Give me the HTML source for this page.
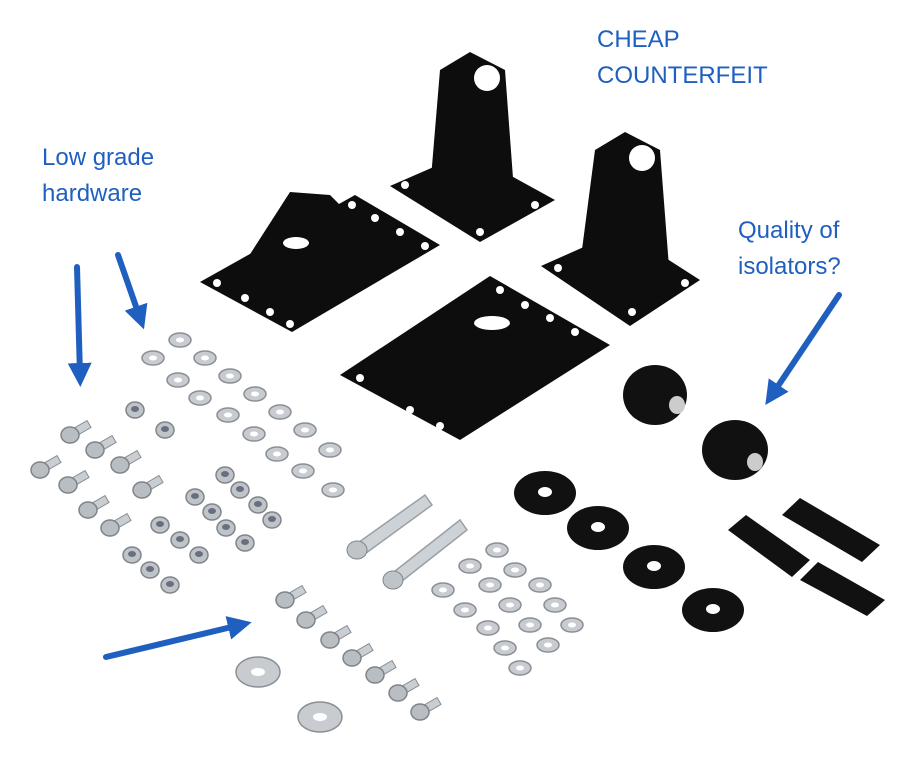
<!DOCTYPE html>
<html><head><meta charset="utf-8"><style>
html,body{margin:0;padding:0;background:#fff;width:915px;height:758px;overflow:hidden}
svg{display:block}
text{font-family:"Liberation Sans","DejaVu Sans",sans-serif;fill:#1f5fbf;font-size:24px}
</style></head><body>
<svg width="915" height="758" viewBox="0 0 915 758" xmlns="http://www.w3.org/2000/svg">
<defs>
<marker id="ah" markerWidth="4" markerHeight="4" refX="2" refY="2" orient="auto" markerUnits="strokeWidth">
<path d="M0,0 L4,2 L0,4 z" fill="#1f5fbf"/></marker>
<g id="wsh"><ellipse cx="0" cy="0" rx="11" ry="7" fill="#c8ccd0" stroke="#8a8f95" stroke-width="1.5"/><ellipse cx="0" cy="0" rx="4" ry="2.5" fill="#fff"/></g>
<g id="nut"><ellipse cx="0" cy="0" rx="9" ry="8" fill="#bfc4c9" stroke="#80858a" stroke-width="1.5"/><ellipse cx="0" cy="-1" rx="4" ry="3" fill="#6a6f80"/></g>
<g id="bolt"><rect x="-6" y="-4" width="28" height="8" fill="#c9ced3" stroke="#8a8f95" transform="rotate(-30)"/><ellipse cx="0" cy="0" rx="9" ry="8" fill="#b9bec3" stroke="#7f848a" stroke-width="1.5"/></g>
<g id="bw"><ellipse cx="0" cy="0" rx="31" ry="22" fill="#111"/><ellipse cx="0" cy="-1" rx="7" ry="5" fill="#fff"/></g>
</defs>
<rect width="915" height="758" fill="#fff"/>
<!-- text -->
<text x="597" y="47">CHEAP</text><text x="597" y="83">COUNTERFEIT</text>
<text x="42" y="165">Low grade</text><text x="42" y="201">hardware</text>
<text x="738" y="238">Quality of</text><text x="738" y="274">isolators?</text>
<!-- brackets -->
<g fill="#0d0d0d">
<polygon points="200,282 355,195 440,245 292,332"/>
<polygon points="245,262 290,192 330,195 380,245 320,290 270,285"/>
<polygon points="340,375 490,276 610,345 460,440"/>
<polygon points="395,350 460,300 510,300 565,345 500,395 440,420"/>
<polygon points="390,186 468,152 555,200 480,242"/>
<polygon points="430,190 440,70 470,52 505,70 515,205 470,220"/>
<polygon points="541,266 622,230 700,280 630,326"/>
<polygon points="580,265 595,150 625,132 660,150 670,280 620,290"/>
</g>
<g fill="#fff">
<circle cx="487" cy="78" r="13"/><circle cx="642" cy="158" r="13"/>
<ellipse cx="296" cy="243" rx="13" ry="6"/><ellipse cx="492" cy="323" rx="18" ry="7"/>
<circle cx="217" cy="283" r="4"/><circle cx="245" cy="298" r="4"/><circle cx="270" cy="312" r="4"/><circle cx="290" cy="324" r="4"/>
<circle cx="352" cy="205" r="4"/><circle cx="375" cy="218" r="4"/><circle cx="400" cy="232" r="4"/><circle cx="425" cy="246" r="4"/>
<circle cx="360" cy="378" r="4"/><circle cx="410" cy="410" r="4"/><circle cx="440" cy="426" r="4"/>
<circle cx="500" cy="290" r="4"/><circle cx="525" cy="305" r="4"/><circle cx="550" cy="318" r="4"/><circle cx="575" cy="332" r="4"/>
<circle cx="405" cy="185" r="4"/><circle cx="480" cy="232" r="4"/><circle cx="535" cy="205" r="4"/>
<circle cx="558" cy="268" r="4"/><circle cx="632" cy="312" r="4"/><circle cx="685" cy="283" r="4"/>
</g>
<!-- isolators -->
<g fill="#111"><ellipse cx="655" cy="395" rx="32" ry="30"/><ellipse cx="735" cy="450" rx="33" ry="30"/></g>
<ellipse cx="677" cy="405" rx="8" ry="9" fill="#ccc"/><ellipse cx="755" cy="462" rx="8" ry="9" fill="#ccc"/>
<use href="#bw" x="545" y="493"/><use href="#bw" x="598" y="528"/><use href="#bw" x="654" y="567"/><use href="#bw" x="713" y="610"/>
<g fill="#111">
<polygon points="782,515 800,498 880,545 862,562"/>
<polygon points="728,530 746,515 810,560 792,577"/>
<polygon points="800,580 818,562 885,600 867,616"/>
</g>
<!-- washers -->
<g>
<use href="#wsh" x="180" y="340"/><use href="#wsh" x="153" y="358"/><use href="#wsh" x="205" y="358"/><use href="#wsh" x="178" y="380"/><use href="#wsh" x="230" y="376"/>
<use href="#wsh" x="200" y="398"/><use href="#wsh" x="255" y="394"/><use href="#wsh" x="228" y="415"/><use href="#wsh" x="280" y="412"/><use href="#wsh" x="254" y="434"/>
<use href="#wsh" x="305" y="430"/><use href="#wsh" x="277" y="454"/><use href="#wsh" x="330" y="450"/><use href="#wsh" x="303" y="471"/><use href="#wsh" x="333" y="490"/>
<use href="#wsh" x="497" y="550"/><use href="#wsh" x="470" y="566"/><use href="#wsh" x="515" y="570"/><use href="#wsh" x="443" y="590"/><use href="#wsh" x="490" y="585"/>
<use href="#wsh" x="540" y="585"/><use href="#wsh" x="465" y="610"/><use href="#wsh" x="510" y="605"/><use href="#wsh" x="555" y="605"/><use href="#wsh" x="488" y="628"/>
<use href="#wsh" x="530" y="625"/><use href="#wsh" x="572" y="625"/><use href="#wsh" x="505" y="648"/><use href="#wsh" x="548" y="645"/><use href="#wsh" x="520" y="668"/>
</g>
<g>
<use href="#nut" x="135" y="410"/><use href="#nut" x="165" y="430"/>
<use href="#nut" x="225" y="475"/><use href="#nut" x="240" y="490"/><use href="#nut" x="195" y="497"/><use href="#nut" x="212" y="512"/><use href="#nut" x="258" y="505"/><use href="#nut" x="272" y="520"/>
<use href="#nut" x="226" y="528"/><use href="#nut" x="245" y="543"/><use href="#nut" x="160" y="525"/><use href="#nut" x="180" y="540"/><use href="#nut" x="199" y="555"/>
<use href="#nut" x="132" y="555"/><use href="#nut" x="150" y="570"/><use href="#nut" x="170" y="585"/>
</g>
<g>
<use href="#bolt" x="70" y="435"/><use href="#bolt" x="95" y="450"/><use href="#bolt" x="40" y="470"/><use href="#bolt" x="68" y="485"/>
<use href="#bolt" x="120" y="465"/><use href="#bolt" x="142" y="490"/><use href="#bolt" x="88" y="510"/><use href="#bolt" x="110" y="528"/>
<use href="#bolt" x="285" y="600"/><use href="#bolt" x="306" y="620"/><use href="#bolt" x="330" y="640"/><use href="#bolt" x="352" y="658"/>
<use href="#bolt" x="375" y="675"/><use href="#bolt" x="398" y="693"/><use href="#bolt" x="420" y="712"/>
</g>
<g stroke="#9aa0a6" fill="#cdd2d6" stroke-width="1.5">
<polygon points="355,545 425,495 432,505 362,556"/><polygon points="390,575 460,520 467,530 397,585"/>
</g>
<ellipse cx="357" cy="550" rx="10" ry="9" fill="#bfc4c9" stroke="#80858a"/><ellipse cx="393" cy="580" rx="10" ry="9" fill="#bfc4c9" stroke="#80858a"/>
<ellipse cx="258" cy="672" rx="22" ry="15" fill="#c8ccd0" stroke="#8a8f95" stroke-width="1.5"/><ellipse cx="258" cy="672" rx="7" ry="4" fill="#fff"/>
<ellipse cx="320" cy="717" rx="22" ry="15" fill="#c8ccd0" stroke="#8a8f95" stroke-width="1.5"/><ellipse cx="320" cy="717" rx="7" ry="4" fill="#fff"/>
<!-- arrows -->
<g stroke="#1f5fbf" stroke-width="6" stroke-linecap="round" marker-end="url(#ah)">
<line x1="77" y1="267" x2="80" y2="375"/>
<line x1="118" y1="255" x2="140" y2="318"/>
<line x1="106" y1="657" x2="240" y2="625"/>
<line x1="839" y1="295" x2="772" y2="395"/>
</g>
</svg>
</body></html>
